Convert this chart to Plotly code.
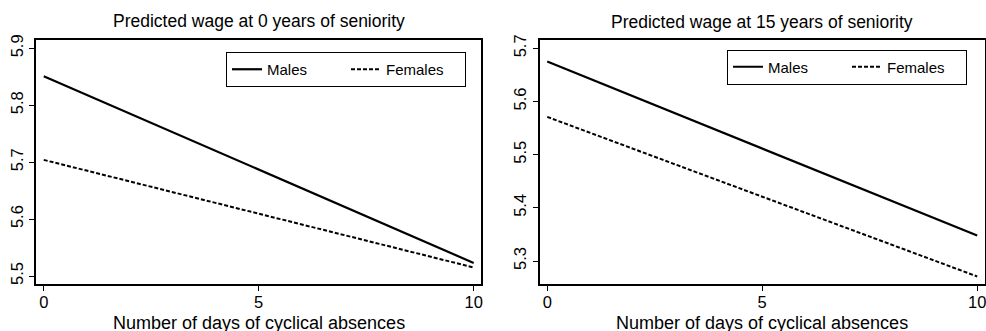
import plotly.graph_objects as go

days = [0, 10]
males_0 = [5.851, 5.523]
females_0 = [5.704, 5.515]
males_15 = [5.675, 5.348]
females_15 = [5.571, 5.271]

titles = ["Predicted wage at 0 years of seniority", "Predicted wage at 15 years of seniority"]
xtitle = "Number of days of cyclical absences"
xticks = [0, 5, 10]
yticks_0 = [5.5, 5.6, 5.7, 5.8, 5.9]
yticks_15 = [5.3, 5.4, 5.5, 5.6, 5.7]

FONT = "Liberation Sans, Arial, sans-serif"
W, H = 986, 331

fig = go.Figure()
fig.add_trace(go.Scatter(x=days, y=males_0, mode="lines", name="Males",
                         line=dict(color="black", width=2.2), xaxis="x", yaxis="y", legend="legend"))
fig.add_trace(go.Scatter(x=days, y=females_0, mode="lines", name="Females",
                         line=dict(color="black", width=2, dash="4px,2px"), xaxis="x", yaxis="y", legend="legend"))
fig.add_trace(go.Scatter(x=days, y=males_15, mode="lines", name="Males",
                         line=dict(color="black", width=2.2), xaxis="x2", yaxis="y2", legend="legend2"))
fig.add_trace(go.Scatter(x=days, y=females_15, mode="lines", name="Females",
                         line=dict(color="black", width=2, dash="4px,2px"), xaxis="x2", yaxis="y2", legend="legend2"))

ybot = (H - 284) / H
ytop = (H - 40) / H
d1 = [36 / W, 481 / W]
d2 = [539.5 / W, 984.5 / W]

axcommon = dict(showline=True, linecolor="black", linewidth=1.5, mirror=True,
                ticks="outside", ticklen=5, tickwidth=1.2, tickcolor="black",
                showgrid=False, zeroline=False, automargin=False,
                ticklabeloverflow="allow",
                tickfont=dict(family=FONT, size=16.5, color="black"))
xax = dict(axcommon, ticklabelstandoff=-3)
yax = dict(axcommon, tickangle=-90)

legcommon = dict(xanchor="right", yanchor="top", orientation="h",
                 bordercolor="black", borderwidth=1, bgcolor="white",
                 entrywidth=74, entrywidthmode="pixels", itemwidth=30,
                 font=dict(family=FONT, size=15, color="black"))

def label(text, xc, ypx, anchor, size):
    return dict(text=text, x=xc, y=(H - ypx) / H, xref="paper", yref="paper",
                showarrow=False, xanchor="center", yanchor=anchor,
                font=dict(family=FONT, size=size, color="black"))

fig.update_layout(
    width=W, height=H,
    margin=dict(l=0, r=0, t=0, b=0, autoexpand=False),
    paper_bgcolor="white", plot_bgcolor="white",
    font=dict(family=FONT, color="black"),
    showlegend=True,
    xaxis=dict(domain=d1, range=[-0.18, 10.17], tickvals=xticks, anchor="y", **xax),
    yaxis=dict(domain=[ybot, ytop], range=[5.4860, 5.9146], tickvals=yticks_0, anchor="x", **yax),
    xaxis2=dict(domain=d2, range=[-0.18, 10.17], tickvals=xticks, anchor="y2", **xax),
    yaxis2=dict(domain=[ybot, ytop], range=[5.2568, 5.7156], tickvals=yticks_15, anchor="x2", **yax),
    legend=dict(x=466 / W, y=(H - 52) / H, **legcommon),
    legend2=dict(x=967 / W, y=(H - 49.5) / H, **legcommon),
    annotations=[
        label(titles[0], (d1[0] + d1[1]) / 2, 21, "middle", 17.5),
        label(titles[1], (d2[0] + d2[1]) / 2, 22, "middle", 17.5),
        label(xtitle, (d1[0] + d1[1]) / 2, 311, "top", 18),
        label(xtitle, (d2[0] + d2[1]) / 2, 311, "top", 18),
    ],
)

fig.write_html("out.html", config={"displayModeBar": False},
               post_script="document.body.style.margin='0';document.body.style.overflow='hidden';")
